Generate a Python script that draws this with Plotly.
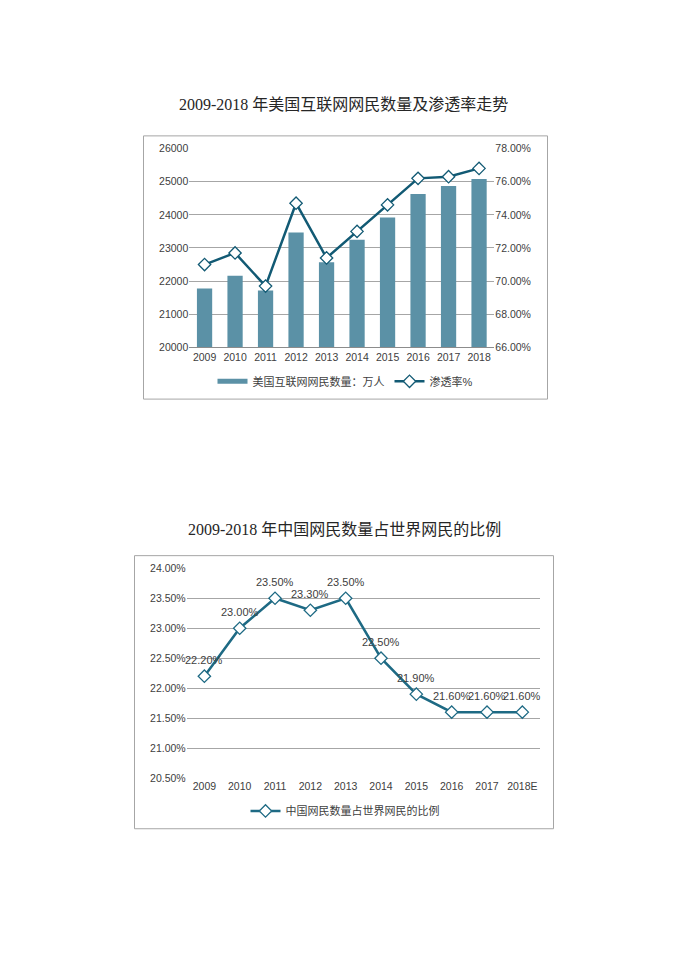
import plotly.graph_objects as go

# ---------------- data ----------------
years1 = ["2009", "2010", "2011", "2012", "2013", "2014", "2015", "2016", "2017", "2018"]
us_users = [21780, 22160, 21720, 23470, 22570, 23250, 23920, 24630, 24870, 25080]
us_penetration = [0.710, 0.717, 0.697, 0.747, 0.714, 0.730, 0.746, 0.762, 0.763, 0.768]
bar_name = "美国互联网网民数量：万人"
line_name = "渗透率%"
title1 = "2009-2018 年美国互联网网民数量及渗透率走势"

years2 = ["2009", "2010", "2011", "2012", "2013", "2014", "2015", "2016", "2017", "2018E"]
cn_share = [0.222, 0.230, 0.235, 0.233, 0.235, 0.225, 0.219, 0.216, 0.216, 0.216]
share_name = "中国网民数量占世界网民的比例"
title2 = "2009-2018 年中国网民数量占世界网民的比例"

# ---------------- styling ----------------
W, H = 690, 975
SANS = "Liberation Sans, Arial, Noto Sans CJK SC, sans-serif"
SERIF = "Liberation Serif, Times New Roman, Noto Sans CJK SC, serif"
TICK = dict(family=SANS, size=10.5, color="#404040")
BAR_C = "#5B91A6"
LINE_C = "#125A74"
LINE2_C = "#1E6A84"
GRID_C = "#A6A6A6"


def px(x):
    return x / W


def py(y):
    return 1 - y / H


fig = go.Figure()

# chart 1
fig.add_trace(go.Bar(x=years1, y=us_users, marker=dict(color=BAR_C, line=dict(width=0)),
                     name=bar_name, showlegend=False, xaxis="x", yaxis="y"))
fig.add_trace(go.Scatter(x=[None], y=[None], mode="lines", name=bar_name,
                         line=dict(color=BAR_C, width=5), xaxis="x", yaxis="y", legend="legend"))
fig.add_trace(go.Scatter(x=years1, y=us_penetration, mode="lines+markers", name=line_name,
                         line=dict(color=LINE_C, width=2.5),
                         marker=dict(symbol="diamond", size=9.5, color="white",
                                     line=dict(color=LINE_C, width=1.3)),
                         xaxis="x", yaxis="y2", legend="legend"))

# chart 2
fig.add_trace(go.Scatter(x=years2, y=cn_share, mode="lines+markers", name=share_name,
                         line=dict(color=LINE2_C, width=2.5),
                         marker=dict(symbol="diamond", size=9.5, color="white",
                                     line=dict(color=LINE2_C, width=1.3)),
                         xaxis="x2", yaxis="y3", legend="legend2"))

# data labels (category index positions)
for i, yv in enumerate(cn_share):
    fig.add_annotation(x=i, y=yv, xref="x2", yref="y3", text=f"{yv*100:.2f}%",
                       showarrow=False, yshift=16,
                       font=dict(family=SANS, size=11, color="#404040"))

# titles
fig.add_annotation(x=px(343), y=py(100), xref="paper", yref="paper", text=title1,
                   showarrow=False, xanchor="center", yanchor="middle",
                   font=dict(family=SERIF, size=16, color="#262626"))
fig.add_annotation(x=px(344), y=py(530), xref="paper", yref="paper", text=title2,
                   showarrow=False, xanchor="center", yanchor="middle",
                   font=dict(family=SERIF, size=16, color="#262626"))

# frames
fig.add_shape(type="rect", xref="paper", yref="paper", x0=px(143.5), x1=px(547.5),
              y0=py(398), y1=py(131.5), line=dict(color="#A6A6A6", width=1))
fig.add_shape(type="rect", xref="paper", yref="paper", x0=px(134.5), x1=px(553.5),
              y0=py(833), y1=py(556.5), line=dict(color="#A6A6A6", width=1))

fig.update_layout(
    width=W, height=H, autosize=False,
    margin=dict(l=0, r=0, t=0, b=0),
    paper_bgcolor="white", plot_bgcolor="white",
    bargap=0.5,
    xaxis=dict(domain=[px(189.3), px(494.3)], anchor="y", type="category",
               range=[-0.5, 9.5],
               showgrid=False, showline=True, linecolor="#8C8C8C", linewidth=1,
               ticks="", tickfont=TICK),
    yaxis=dict(domain=[py(345.7), py(144.3)], anchor="x", range=[20000, 26000], dtick=1000,
               showgrid=True, gridcolor=GRID_C, gridwidth=1, zeroline=False,
               showline=False, tickfont=TICK, ticks="", tickformat="d"),
    yaxis2=dict(overlaying="y", anchor="x", side="right", range=[0.66, 0.78], dtick=0.02,
                tickformat=".2%", showgrid=False, zeroline=False, showline=False,
                tickfont=TICK, ticks=""),
    xaxis2=dict(domain=[px(186.7), px(540)], anchor="y3", type="category",
                range=[-0.5, 9.5],
                showgrid=False, showline=False, ticks="", tickfont=TICK),
    yaxis3=dict(domain=[py(781.7), py(569.3)], anchor="x2", range=[0.205, 0.24], dtick=0.005,
                tickformat=".2%", showgrid=True, gridcolor=GRID_C, gridwidth=1,
                zeroline=False, showline=False, tickfont=TICK, ticks=""),
    legend=dict(orientation="h", x=px(345), y=py(380), xanchor="center", yanchor="middle",
                font=dict(family=SANS, size=11, color="#404040"), itemwidth=30,
                bgcolor="rgba(0,0,0,0)"),
    legend2=dict(orientation="h", x=px(345), y=py(815), xanchor="center", yanchor="middle",
                 font=dict(family=SANS, size=11, color="#404040"), itemwidth=30,
                 bgcolor="rgba(0,0,0,0)"),
)

fig.write_html("out.html", config={"displayModeBar": False, "staticPlot": True},
               post_script="document.body.style.margin='0';")
